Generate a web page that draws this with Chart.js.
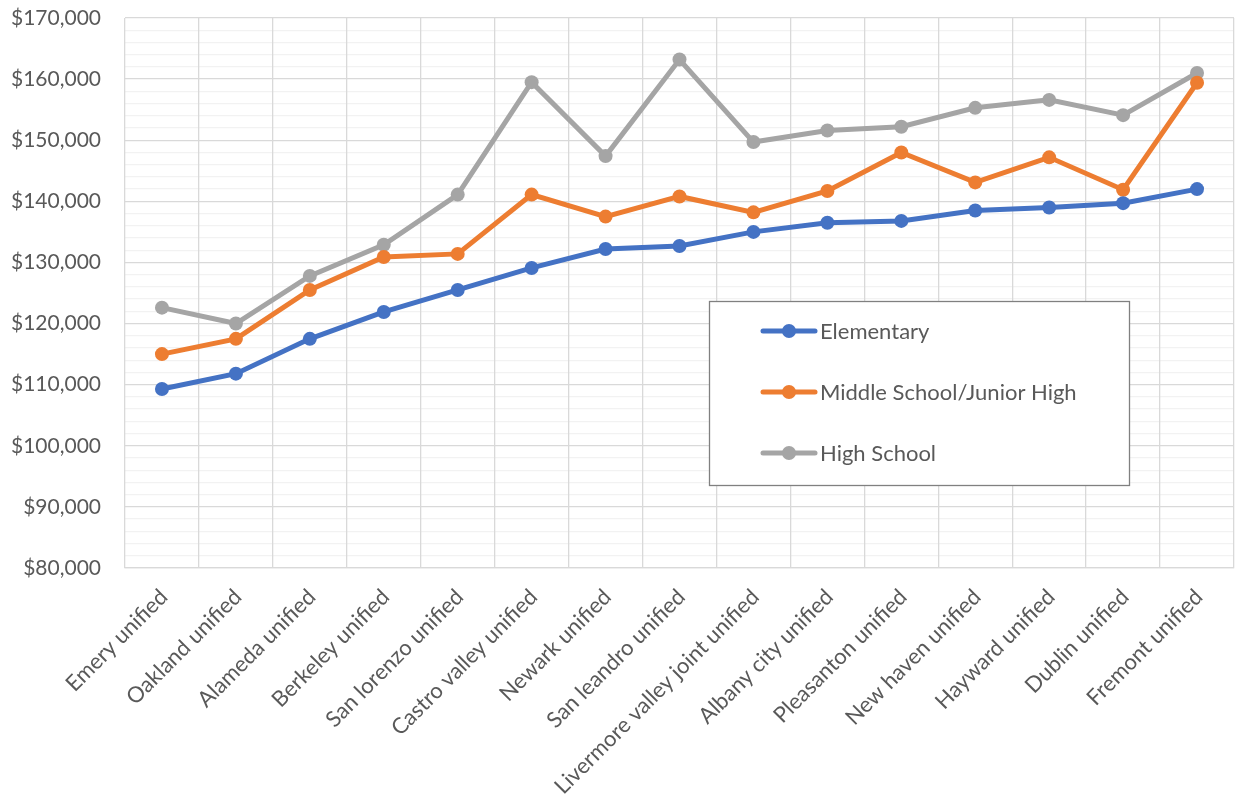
<!DOCTYPE html>
<html>
<head>
<meta charset="utf-8">
<script src="https://cdn.jsdelivr.net/npm/chart.js@4.4.1/dist/chart.umd.min.js"></script>
<style>
  html, body { margin: 0; padding: 0; background: #fff; }
  #wrap { width: 1241px; height: 806px; position: relative; }
</style>
</head>
<body>
<div id="wrap"><canvas id="chart-line"></canvas></div>
<script>
var districts = [
  "Emery unified", "Oakland unified", "Alameda unified", "Berkeley unified",
  "San lorenzo unified", "Castro valley unified", "Newark unified", "San leandro unified",
  "Livermore valley joint unified", "Albany city unified", "Pleasanton unified",
  "New haven unified", "Hayward unified", "Dublin unified", "Fremont unified"
];
var elementary = [109300, 111800, 117500, 121900, 125500, 129100, 132200, 132700,
  135000, 136500, 136800, 138500, 139000, 139700, 142000];
var middleSchool = [115000, 117500, 125500, 130900, 131400, 141100, 137500, 140800,
  138200, 141700, 148000, 143100, 147200, 141900, 159400];
var highSchool = [122600, 120000, 127800, 132900, 141100, 159500, 147400, 163200,
  149700, 151600, 152200, 155300, 156600, 154100, 161000];

var FONT = "Lato, 'Open Sans', sans-serif";
var TEXT = "#595959";

// legend box drawn inside the plot, like the excel one
var boxLegend = {
  id: "boxLegend",
  afterDraw: function (chart) {
    var c = chart.ctx;
    var x = 709, y = 301, w = 420, h = 184;
    c.save();
    c.fillStyle = "#fff";
    c.fillRect(x, y, w, h);
    c.strokeStyle = "#808080";
    c.lineWidth = 1.3;
    c.strokeRect(x + 0.5, y + 0.5, w, h);
    chart.data.datasets.forEach(function (ds, i) {
      var yy = 331 + i * 61;
      c.strokeStyle = ds.borderColor;
      c.lineWidth = 5;
      c.lineCap = "round";
      c.beginPath();
      c.moveTo(763, yy);
      c.lineTo(815, yy);
      c.stroke();
      c.fillStyle = ds.borderColor;
      c.beginPath();
      c.arc(789, yy, 7, 0, Math.PI * 2);
      c.fill();
      c.fillStyle = TEXT;
      c.font = "22px " + FONT;
      c.textBaseline = "middle";
      c.textAlign = "left";
      c.fillText(ds.label, 820, yy + 1);
    });
    c.restore();
  }
};

function makeSet(label, color, data) {
  return {
    label: label,
    data: data,
    borderColor: color,
    backgroundColor: color,
    borderWidth: 5,
    pointRadius: 7,
    pointHoverRadius: 7,
    pointBorderWidth: 0,
    tension: 0,
  };
}

var ctx = document.getElementById("chart-line").getContext("2d");
new Chart(ctx, {
  type: "line",
  data: {
    labels: districts,
    datasets: [
      makeSet("Elementary", "#4472C4", elementary),
      makeSet("Middle School/Junior High", "#ED7D31", middleSchool),
      makeSet("High School", "#A5A5A5", highSchool),
    ],
  },
  plugins: [boxLegend],
  options: {
    responsive: true,
    maintainAspectRatio: false,
    animation: false,
    layout: { padding: { top: 18, right: 3, left: 0, bottom: 0 } },
    plugins: {
      legend: { display: false },
      tooltip: { enabled: false },
    },
    scales: {
      y: {
        min: 80000,
        max: 170000,
        afterFit: function (s) {
          s.width = 125;
          s.paddingTop = 0;
          s.paddingBottom = 0;
        },
        border: { display: false },
        grid: {
          drawTicks: false,
          lineWidth: 1.3,
          color: function (c) {
            return c.tick && c.tick.value % 10000 === 0 ? "#d9d9d9" : "#f2f2f2";
          },
        },
        ticks: {
          stepSize: 2000,
          autoSkip: false,
          padding: 24,
          color: TEXT,
          font: { family: FONT, size: 21 },
          callback: function (v) {
            if (v % 10000 !== 0) return "";
            return "$" + v.toLocaleString("en-US");
          },
        },
      },
      x: {
        offset: true,
        afterFit: function (s) {
          s.height = 238;
          s.paddingLeft = 0;
          s.paddingRight = 0;
        },
        border: { color: "#d9d9d9", width: 1.3 },
        grid: { color: "#d9d9d9", lineWidth: 1.3, drawTicks: false, offset: true },
        ticks: {
          autoSkip: false,
          maxRotation: 45,
          minRotation: 45,
          padding: 16,
          labelOffset: 2,
          color: TEXT,
          font: { family: FONT, size: 22 },
        },
      },
    },
  },
});
</script>
</body>
</html>
